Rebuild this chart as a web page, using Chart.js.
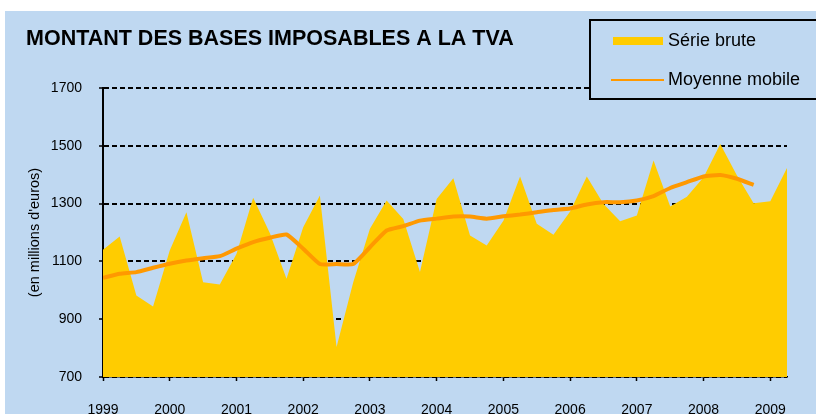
<!DOCTYPE html>
<html>
<head>
<meta charset="utf-8">
<script src="https://cdn.jsdelivr.net/npm/chart.js@4/dist/chart.umd.min.js"></script>
<style>
  html, body { margin: 0; padding: 0; background: #ffffff; }
  #wrap { width: 816px; height: 414px; }
</style>
</head>
<body>
<div id="wrap"><canvas id="c" width="816" height="414"></canvas></div>
<script>
// ---- DATA ----
const chartTitle = 'MONTANT DES BASES IMPOSABLES A LA TVA';
const yAxisTitle = "(en millions d'euros)";
const startYear = 1999;            // first quarter = 1999 T1, quarterly data
const yearTicks = [1999, 2000, 2001, 2002, 2003, 2004, 2005, 2006, 2007, 2008, 2009];
const yTicks = [700, 900, 1100, 1300, 1500, 1700];
const seriesNames = ['Série brute', 'Moyenne mobile'];
const serieBrute = [
  1140, 1186, 982, 944,
  1138, 1270, 1028, 1020,
  1126, 1320, 1198, 1040,
  1218, 1328, 804, 1028,
  1213, 1311, 1247, 1063,
  1316, 1388, 1190, 1155,
  1241, 1394, 1230, 1192,
  1273, 1394, 1299, 1239,
  1259, 1449, 1290, 1324,
  1391, 1506, 1397, 1301,
  1308, 1423
];
const moyenneMobile = [
  1043, 1057, 1063, 1078,
  1092, 1103, 1111, 1118,
  1144, 1167, 1182, 1193,
  1144, 1091, 1091, 1091,
  1149, 1207, 1222, 1241,
  1248, 1255, 1255, 1248,
  1256, 1262, 1270, 1278,
  1283, 1297, 1305, 1305,
  1311, 1326, 1354, 1374,
  1394, 1399, 1386, 1365,
  null, null
];

// ---- STYLE ----
const BG = '#BFD8F1';
const YELLOW = '#FFCC00';
const ORANGE = '#FF9900';
const FONT = '"Liberation Sans", Arial, sans-serif';

const toPoints = arr => arr.map((v, i) => ({ x: startYear + i / 4, y: v }));

const decor = {
  id: 'decor',
  beforeDraw(chart) {
    const ctx = chart.ctx;
    ctx.save();
    ctx.fillStyle = '#ffffff';
    ctx.fillRect(0, 0, chart.width, chart.height);
    ctx.fillStyle = BG;
    ctx.fillRect(5, 11, chart.width - 5, chart.height - 11);
    ctx.restore();
  },
  afterDraw(chart) {
    const ctx = chart.ctx;
    ctx.save();
    // Title
    ctx.fillStyle = '#000';
    ctx.font = 'bold 21.5px ' + FONT;
    ctx.textBaseline = 'alphabetic';
    ctx.textAlign = 'left';
    ctx.fillText(chartTitle, 26, 45);
    // Legend box
    ctx.fillStyle = BG;
    ctx.fillRect(590, 20, 240, 79);
    ctx.strokeStyle = '#000';
    ctx.lineWidth = 2;
    ctx.strokeRect(590, 20, 240, 79);
    const ds = chart.data.datasets;
    const brute = ds.find(d => d.label === seriesNames[0]);
    const mm = ds.find(d => d.label === seriesNames[1]);
    ctx.fillStyle = brute.backgroundColor;
    ctx.fillRect(613, 37, 50, 8);
    ctx.strokeStyle = mm.borderColor;
    ctx.lineWidth = 2;
    ctx.beginPath();
    ctx.moveTo(611, 80);
    ctx.lineTo(664, 80);
    ctx.stroke();
    ctx.fillStyle = '#000';
    ctx.font = '18px ' + FONT;
    ctx.textBaseline = 'middle';
    ctx.fillText(brute.label, 668, 41);
    ctx.fillText(mm.label, 668, 80);
    ctx.restore();
  }
};

new Chart(document.getElementById('c'), {
  type: 'line',
  data: {
    datasets: [
      {
        label: seriesNames[1],
        data: toPoints(moyenneMobile),
        borderColor: ORANGE,
        backgroundColor: ORANGE,
        borderWidth: 4,
        fill: false,
        pointRadius: 0,
        tension: 0.15,
        spanGaps: false,
        order: 0
      },
      {
        label: seriesNames[0],
        data: toPoints(serieBrute),
        borderColor: YELLOW,
        backgroundColor: YELLOW,
        borderWidth: 0,
        fill: 'start',
        pointRadius: 0,
        tension: 0,
        order: 1
      }
    ]
  },
  options: {
    responsive: false,
    animation: false,
    devicePixelRatio: 1,
    layout: { padding: { left: 0, right: 29, top: 88, bottom: 0 } },
    plugins: {
      legend: { display: false },
      title: { display: false },
      tooltip: { enabled: false }
    },
    scales: {
      x: {
        type: 'linear',
        min: startYear,
        max: startYear + (serieBrute.length - 1) / 4,
        afterBuildTicks: s => { s.ticks = yearTicks.map(v => ({ value: v })); },
        afterFit: s => { s.height = 37; },
        ticks: {
          autoSkip: false,
          maxRotation: 0,
          padding: 21,
          color: '#000',
          font: { family: FONT, size: 14 },
          callback: v => String(v)
        },
        grid: {
          drawOnChartArea: false,
          drawTicks: true,
          tickLength: 4,
          tickColor: '#000',
          tickWidth: 1.5
        },
        border: { display: true, color: '#000', width: 1.5 }
      },
      y: {
        min: yTicks[0],
        max: yTicks[yTicks.length - 1],
        afterBuildTicks: s => { s.ticks = yTicks.map(v => ({ value: v })); },
        afterFit: s => { s.width = 103; },
        ticks: {
          padding: 17,
          color: '#000',
          font: { family: FONT, size: 14 },
          callback: v => String(v)
        },
        grid: {
          color: '#000',
          lineWidth: 2,
          drawTicks: true,
          tickLength: 4,
          tickColor: '#000',
          tickWidth: 1.5,
          tickBorderDash: []
        },
        border: { display: true, color: '#000', width: 2, dash: [5, 3] },
        title: {
          display: true,
          text: yAxisTitle,
          color: '#000',
          font: { family: FONT, size: 14.5 },
          padding: { top: 26, bottom: 0 }
        }
      }
    }
  },
  plugins: [decor]
});
</script>
</body>
</html>
